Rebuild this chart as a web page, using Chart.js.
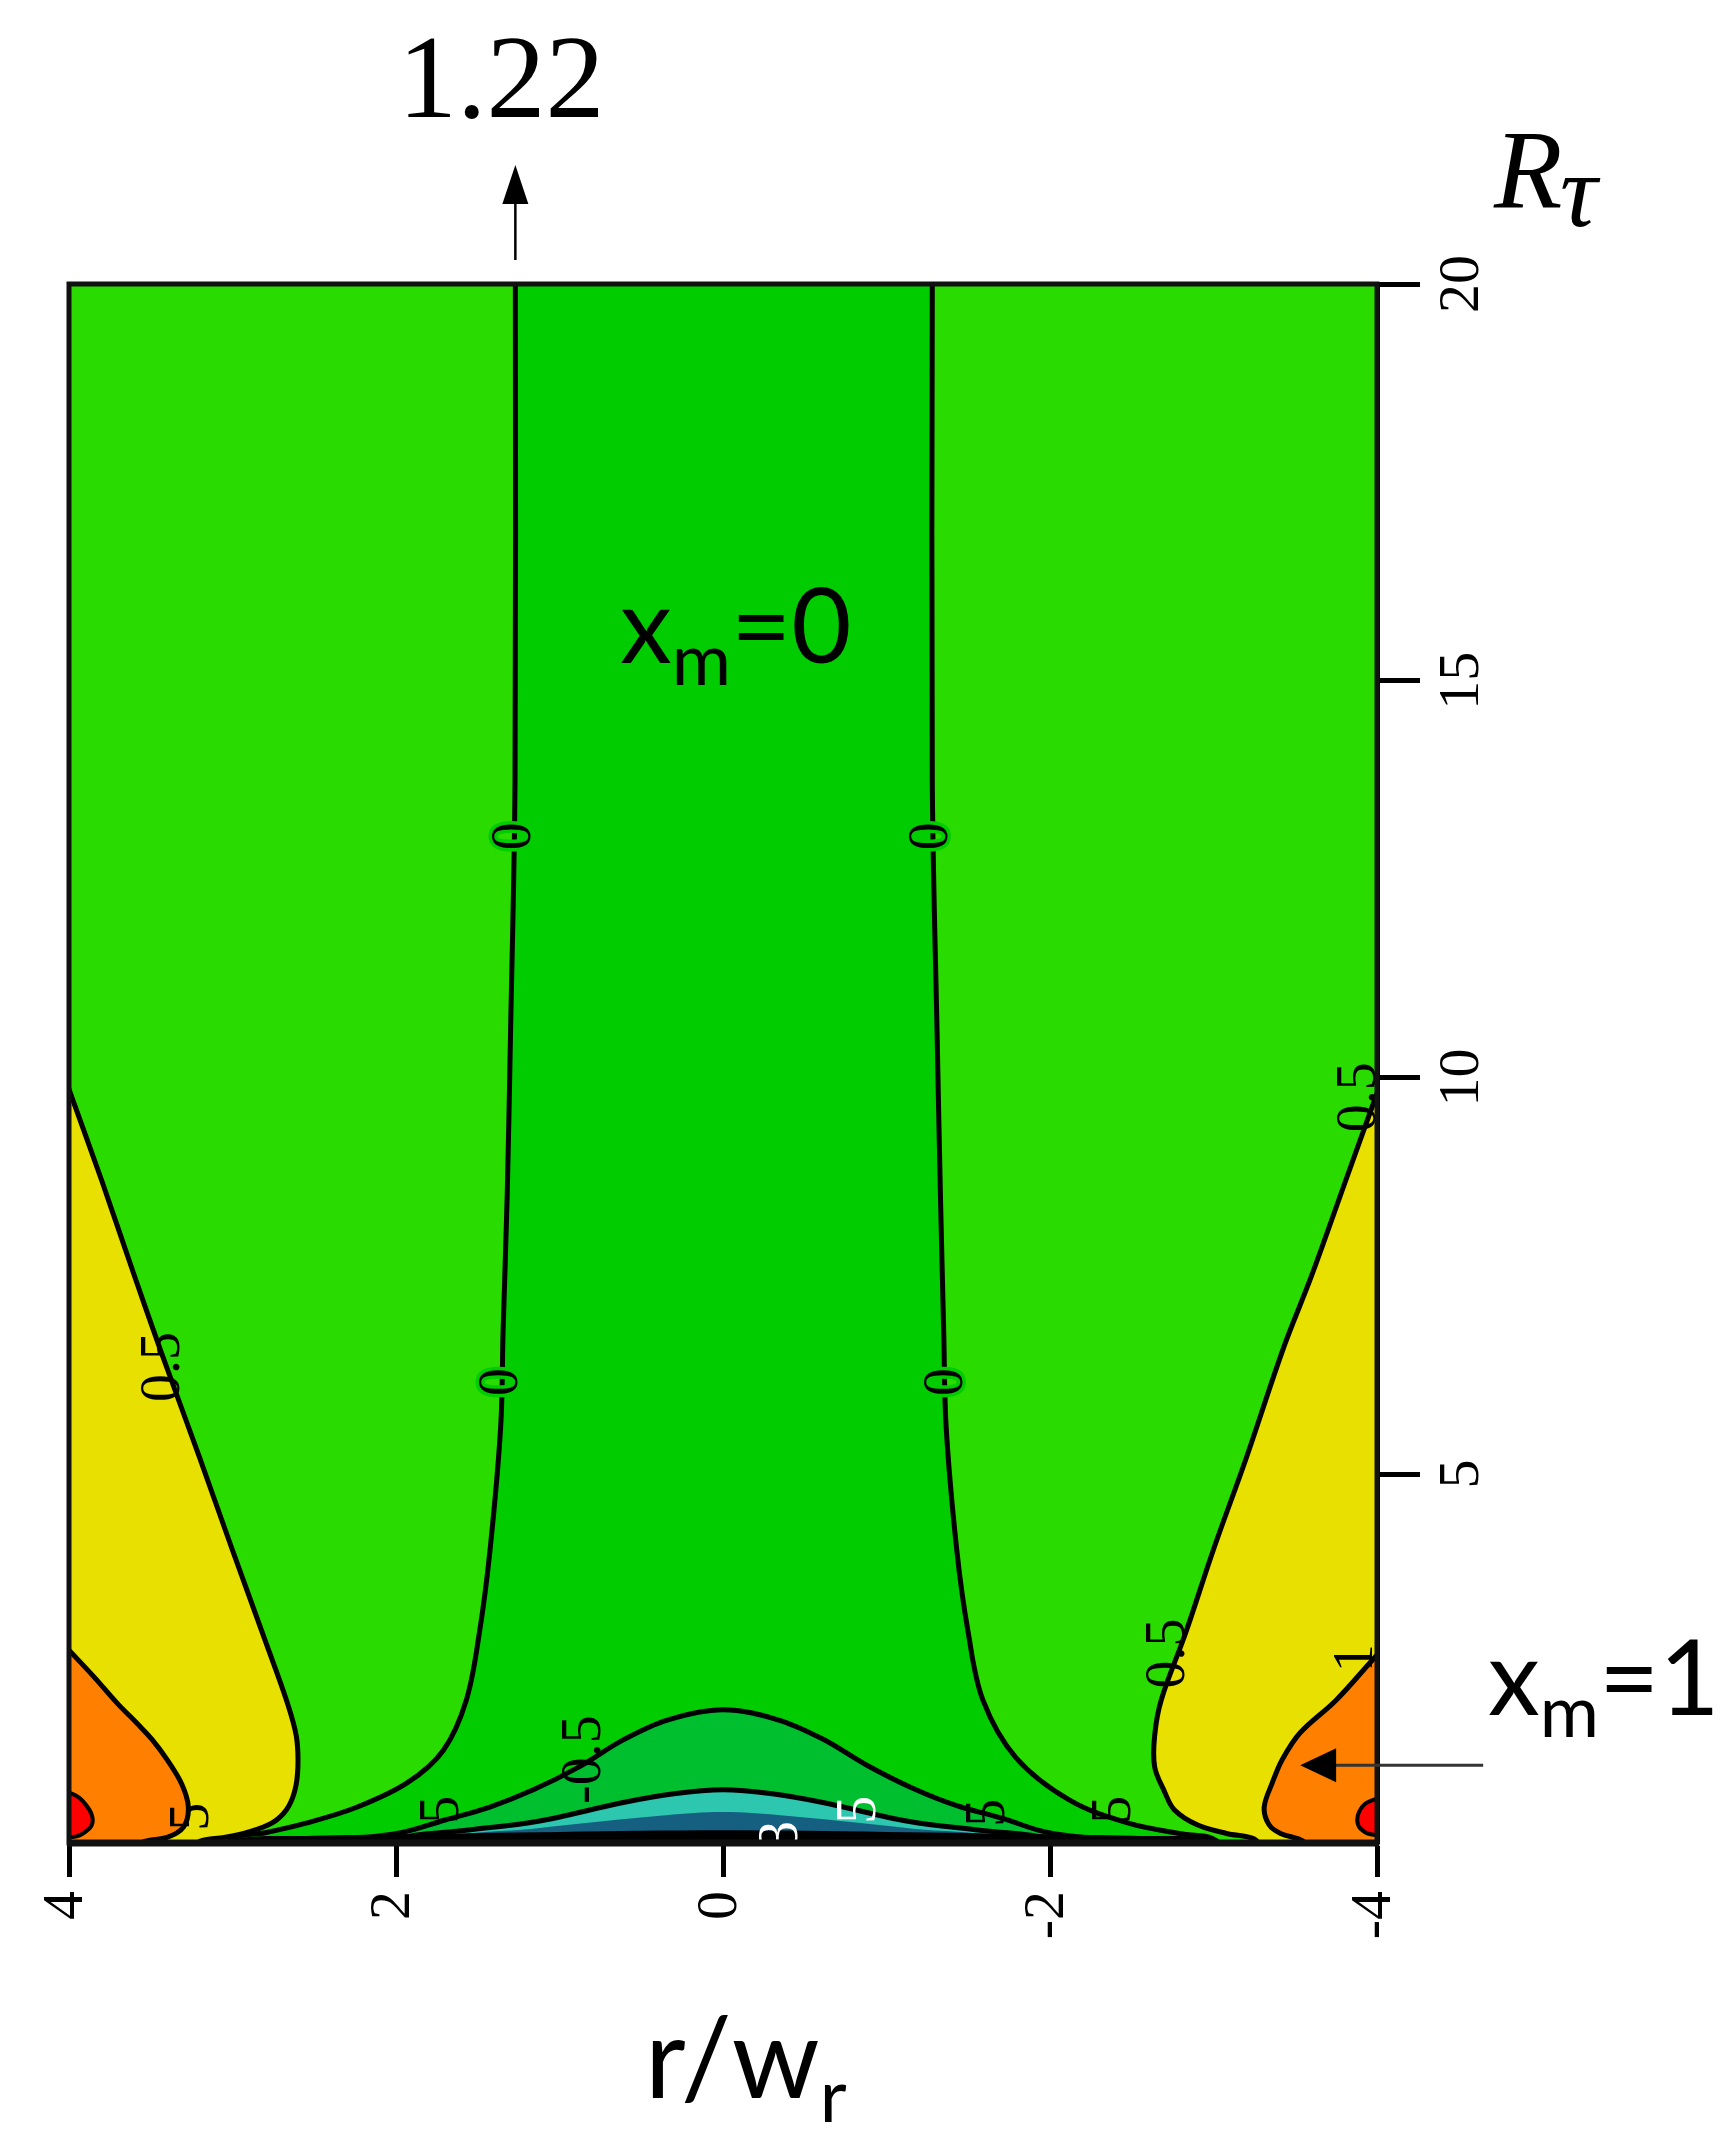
<!DOCTYPE html>
<html>
<head>
<meta charset="utf-8">
<script src="https://cdn.jsdelivr.net/npm/chart.js@4.4.1/dist/chart.umd.min.js"></script>
<style>
html,body{margin:0;padding:0;background:#fff;}
#wrap{width:1728px;height:2152px;position:relative;}
canvas{display:block;}
</style>
</head>
<body>
<div id="wrap"><canvas id="c" width="1728" height="2152"></canvas></div>
<script>
// ---------- axes ----------
const xRange = [-4, 4];          // r/w_r (drawn reversed: 4 on the left)
const yRange = [0.35, 20];       // R_tau
const xTicks = [4, 2, 0, -2, -4];
const xTickLabels = ['4', '2', '0', '-2', '-4'];
const yTicks = [5, 10, 15, 20];
const yTickLabels = ['5', '10', '15', '20'];

// ---------- contour boundaries [r/w_r, R_tau] ----------
// x_m = 0 contour, left branch (top -> bottom)
const zeroLeft = [[1.27,20.6],[1.27,20],[1.272,13.74],[1.30,10.5],[1.32,8.5],[1.345,6.8],[1.36,5.59],[1.425,4.04],[1.49,3.0],[1.57,2.15],[1.71,1.52],[1.93,1.11],[2.24,0.80],[2.55,0.60],[2.80,0.48],[2.98,0.42],[3.1,0.2]];
// x_m = 0 contour, right branch (top -> bottom)
const zeroRight = [[-1.28,20.6],[-1.28,20],[-1.28,13.74],[-1.31,10.5],[-1.33,8.5],[-1.35,6.8],[-1.365,5.59],[-1.43,4.04],[-1.50,3.0],[-1.59,2.15],[-1.79,1.43],[-2.12,0.89],[-2.48,0.60],[-2.82,0.46],[-2.99,0.41],[-3.1,0.2]];
// x_m = 0.5 contours
const halfLeft = [[4.3,11.6],[4.0,9.85],[3.8,8.7],[3.6,7.5],[3.44,6.56],[3.2,5.2],[3.0,4.04],[2.8,2.9],[2.67,2.15],[2.61,1.7],[2.60,1.31],[2.62,1.0],[2.67,0.77],[2.76,0.60],[2.9,0.49],[3.05,0.42],[3.2,0.37],[3.3,0.2]];
const halfRight = [[-4.3,11.5],[-4.0,9.8],[-3.8,8.65],[-3.6,7.5],[-3.43,6.6],[-3.2,5.2],[-3.0,4.05],[-2.83,3.0],[-2.68,2.15],[-2.64,1.7],[-2.64,1.31],[-2.70,1.0],[-2.76,0.77],[-2.9,0.58],[-3.08,0.47],[-3.25,0.40],[-3.35,0.2]];
// x_m = 1 contours
const oneLeft = [[4.2,3.22],[4.0,2.78],[3.85,2.45],[3.70,2.10],[3.58,1.85],[3.49,1.65],[3.40,1.40],[3.31,1.09],[3.27,0.80],[3.30,0.55],[3.40,0.42],[3.55,0.36],[3.6,0.2]];
const oneRight = [[-4.2,3.15],[-4.0,2.72],[-3.75,2.15],[-3.53,1.74],[-3.42,1.4],[-3.36,1.11],[-3.31,0.80],[-3.34,0.58],[-3.41,0.47],[-3.55,0.37],[-3.6,0.2]];
// x_m = 1.5 contours (corners)
const oneHalfLeft = [[4.15,1.08],[3.96,0.95],[3.9,0.84],[3.86,0.70],[3.86,0.58],[3.9,0.49],[3.96,0.43],[4.15,0.40]];
const oneHalfRight = [[-4.15,1.0],[-3.94,0.86],[-3.89,0.74],[-3.88,0.62],[-3.9,0.53],[-3.96,0.46],[-4.15,0.42]];
// x_m = -0.5, -1, -1.5 and the dark band at the axis (centre)
const minusHalf = [[2.75,0.2],[2.6,0.36],[2.3,0.40],[1.97,0.48],[1.70,0.64],[1.43,0.80],[1.16,1.02],[0.88,1.31],[0.61,1.65],[0.34,1.90],[0,2.03],[-0.34,1.90],[-0.61,1.66],[-0.88,1.33],[-1.16,1.04],[-1.43,0.82],[-1.71,0.66],[-1.97,0.49],[-2.3,0.40],[-2.6,0.36],[-2.75,0.2]];
const minusOne = [[2.15,0.2],[2.0,0.40],[1.57,0.51],[1.14,0.62],[0.61,0.86],[0.3,0.97],[0,1.02],[-0.3,0.97],[-0.61,0.86],[-1.14,0.62],[-1.57,0.51],[-2.0,0.40],[-2.15,0.2]];
const minusOneHalf = [[1.85,0.2],[1.7,0.42],[1.16,0.53],[0.75,0.62],[0.35,0.70],[0,0.74],[-0.35,0.70],[-0.75,0.62],[-1.16,0.53],[-1.7,0.42],[-1.85,0.2]];
const minusTwo = [[3.15,0.2],[3.0,0.40],[2.5,0.44],[2.0,0.46],[1.0,0.49],[0,0.51],[-1.0,0.49],[-2.0,0.46],[-2.5,0.44],[-3.0,0.40],[-3.15,0.2]];

// outer corners closing each region (outside the plot, clipped away)
const leftBottomCorner = [[4.6,0.2]];
const rightBottomCorner = [[-4.6,0.2]];

// ---------- contour labels [text, r/w_r, R_tau, colour, halo] ----------
const contourLabels = [
  ['0', 1.272, 13.04, '#000', '#00CC00'],
  ['0', 1.35, 6.16, '#000', '#00CC00'],
  ['0', -1.28, 13.04, '#000', '#00CC00'],
  ['0', -1.37, 6.16, '#000', '#00CC00'],
  ['0.5', 3.42, 6.35, '#000', null],
  ['0.5', -3.9, 9.75, '#000', null],
  ['0.5', -2.73, 2.74, '#000', null],
  ['-0.5', 0.84, 1.40, '#000', null],
  ['5', 3.24, 0.68, '#000', null],
  ['5', 1.71, 0.77, '#000', null],
  ['5', -1.63, 0.73, '#000', null],
  ['5', -2.40, 0.77, '#000', null],
  ['5', -0.84, 0.77, '#fff', null],
  ['3', -0.36, 0.45, '#fff', null],
  ['1', -3.88, 2.68, '#000', null]
];

// ---------- annotations ----------
const asymptoteText = '1.22';
const xm0Pos = [0.63, 15.22];
const xm1ArrowTip = [-3.53, 1.33];

const colors = {
  bg: '#2ADB00', core: '#00CC00', bump: '#00BF2F', teal: '#2CC7AE', deep: '#155F80',
  band: '#000000', yellow: '#E8E000', orange: '#FF8000', red: '#FF0000'
};

// ---------- regions (painted in this order) ----------
const regions = [
  {name: 'x_m<0', pts: zeroLeft.concat(zeroRight.slice().reverse()), color: colors.core, stroke: 5},
  {name: '0.5-1 L', pts: halfLeft.concat(leftBottomCorner, [[4.6, halfLeft[0][1]]]), color: colors.yellow, stroke: 5},
  {name: '0.5-1 R', pts: halfRight.concat(rightBottomCorner, [[-4.6, halfRight[0][1]]]), color: colors.yellow, stroke: 5},
  {name: '1-1.5 L', pts: oneLeft.concat(leftBottomCorner, [[4.6, oneLeft[0][1]]]), color: colors.orange, stroke: 5},
  {name: '1-1.5 R', pts: oneRight.concat(rightBottomCorner, [[-4.6, oneRight[0][1]]]), color: colors.orange, stroke: 5},
  {name: '>1.5 L', pts: oneHalfLeft, color: colors.red, stroke: 4},
  {name: '>1.5 R', pts: oneHalfRight, color: colors.red, stroke: 4},
  {name: '<-0.5', pts: minusHalf, color: colors.bump, stroke: 5},
  {name: '<-1', pts: minusOne, color: colors.teal, stroke: 5},
  {name: '<-1.5', pts: minusOneHalf, color: colors.deep, stroke: 0},
  {name: '<-2', pts: minusTwo, color: colors.band, stroke: 0}
];

const datasets = regions.map((r, i) => ({
  label: r.name,
  data: r.pts.map(p => ({x: p[0], y: p[1]})),
  fill: 'shape',
  backgroundColor: r.color,
  borderColor: '#000',
  borderWidth: r.stroke,
  pointRadius: 0,
  tension: 0.35,
  order: regions.length - i
}));

function rotText(ctx, txt, x, y, font, color, align, halo) {
  ctx.save();
  ctx.translate(x, y);
  ctx.rotate(-Math.PI / 2);
  ctx.font = font;
  ctx.textAlign = align;
  ctx.textBaseline = 'middle';
  if (halo) { ctx.lineWidth = 7; ctx.lineJoin = 'round'; ctx.strokeStyle = halo; ctx.strokeText(txt, 0, 0); }
  ctx.fillStyle = color;
  ctx.fillText(txt, 0, 0);
  ctx.restore();
}
function subText(ctx, main, sub, after, x, y, mainFont, subFont, dy) {
  ctx.save();
  ctx.fillStyle = '#000';
  ctx.textAlign = 'left';
  ctx.textBaseline = 'alphabetic';
  ctx.font = mainFont; ctx.fillText(main, x, y);
  let w = ctx.measureText(main).width;
  ctx.font = subFont; ctx.fillText(sub, x + w, y + dy);
  w += ctx.measureText(sub).width;
  if (after) { ctx.font = mainFont; ctx.fillText(after, x + w, y); }
  ctx.restore();
}

const annot = {
  id: 'annot',
  beforeDatasetsDraw(chart) {
    const {ctx, chartArea: a} = chart;
    ctx.save();
    ctx.fillStyle = colors.bg;
    ctx.fillRect(a.left, a.top, a.right - a.left, a.bottom - a.top);
    ctx.restore();
  },
  afterDatasetsDraw(chart) {
    const {ctx, chartArea: a, scales: {x: xs, y: ys}} = chart;
    ctx.save();
    ctx.beginPath();
    ctx.rect(a.left, a.top, a.right - a.left, a.bottom - a.top);
    ctx.clip();
    contourLabels.forEach(l => {
      rotText(ctx, l[0], xs.getPixelForValue(l[1]), ys.getPixelForValue(l[2]), '56px "Liberation Serif"', l[3], 'center', l[4]);
    });
    ctx.restore();
    // frame
    ctx.save();
    ctx.strokeStyle = '#111';
    ctx.lineWidth = 5;
    ctx.strokeRect(a.left, a.top, a.right - a.left, a.bottom - a.top);
    ctx.lineWidth = 7;
    ctx.beginPath(); ctx.moveTo(a.left - 2, a.bottom); ctx.lineTo(a.right + 2, a.bottom); ctx.stroke();
    ctx.restore();
  },
  afterDraw(chart) {
    const {ctx, chartArea: a, scales: {x: xs, y: ys}} = chart;
    const tickFont = '58px "Liberation Serif"';
    xTicks.forEach((v, i) => rotText(ctx, xTickLabels[i], xs.getPixelForValue(v) - 2, a.bottom + 48, tickFont, '#000', 'right'));
    yTicks.forEach((v, i) => rotText(ctx, yTickLabels[i], a.right + 86, ys.getPixelForValue(v), tickFont, '#000', 'center'));

    // asymptote arrow + value
    const ax = xs.getPixelForValue(zeroLeft[0][0]);
    ctx.save();
    ctx.strokeStyle = '#000'; ctx.fillStyle = '#000'; ctx.lineWidth = 2.5;
    ctx.beginPath(); ctx.moveTo(ax, a.top - 24); ctx.lineTo(ax, 200); ctx.stroke();
    ctx.beginPath(); ctx.moveTo(ax, 165); ctx.lineTo(ax - 13, 204); ctx.lineTo(ax + 13, 204); ctx.closePath(); ctx.fill();
    ctx.font = '118px "Liberation Serif"'; ctx.textAlign = 'center'; ctx.textBaseline = 'alphabetic';
    ctx.fillText(asymptoteText, ax - 14, 117);
    // R_tau
    ctx.font = 'italic 112px "Liberation Serif"'; ctx.textAlign = 'left';
    ctx.fillText('R', 1494, 207);
    ctx.font = 'italic 104px "Liberation Serif"';
    ctx.fillText('\u03C4', 1560, 226);
    ctx.restore();

    // x_m labels
    subText(ctx, 'x', 'm', '=0', xs.getPixelForValue(xm0Pos[0]), ys.getPixelForValue(xm0Pos[1]), '104px Lato', '72px Lato', 22);
    subText(ctx, 'x', 'm', '=1', 1488, 1715, '104px Lato', '72px Lato', 22);
    // x_m = 1 arrow
    const tx = xs.getPixelForValue(xm1ArrowTip[0]), ty = ys.getPixelForValue(xm1ArrowTip[1]);
    ctx.save();
    ctx.strokeStyle = '#333'; ctx.fillStyle = '#000'; ctx.lineWidth = 3;
    ctx.beginPath(); ctx.moveTo(tx + 34, ty); ctx.lineTo(tx + 183, ty); ctx.stroke();
    ctx.beginPath(); ctx.moveTo(tx, ty); ctx.lineTo(tx + 36, ty - 17); ctx.lineTo(tx + 36, ty + 17); ctx.closePath(); ctx.fill();
    ctx.restore();

    // axis title r/w_r
    subText(ctx, 'r/w', 'r', '', 645, 2098, '112px Lato', '74px Lato', 24);
  }
};

new Chart(document.getElementById('c'), {
  type: 'line',
  data: {datasets},
  plugins: [annot],
  options: {
    responsive: false,
    animation: false,
    devicePixelRatio: 1,
    events: [],
    layout: {padding: {left: 69, top: 284, right: 201, bottom: 159}},
    plugins: {legend: {display: false}, tooltip: {enabled: false}},
    elements: {line: {capBezierPoints: false}, point: {radius: 0}},
    scales: {
      x: {
        type: 'linear', min: xRange[0], max: xRange[1], reverse: true,
        afterBuildTicks: s => { s.ticks = xTicks.map(v => ({value: v})); },
        afterFit: s => { s.height = 150; },
        ticks: {display: false},
        grid: {display: true, drawOnChartArea: false, drawTicks: true, tickLength: 34, tickWidth: 5, tickColor: '#000'},
        border: {display: true, color: '#000', width: 5}
      },
      y: {
        type: 'linear', position: 'right', min: yRange[0], max: yRange[1],
        afterBuildTicks: s => { s.ticks = yTicks.map(v => ({value: v})); },
        afterFit: s => { s.width = 150; },
        ticks: {display: false},
        grid: {display: true, drawOnChartArea: false, drawTicks: true, tickLength: 43, tickWidth: 5, tickColor: '#000'},
        border: {display: true, color: '#000', width: 5}
      }
    }
  }
});
</script>
</body>
</html>
